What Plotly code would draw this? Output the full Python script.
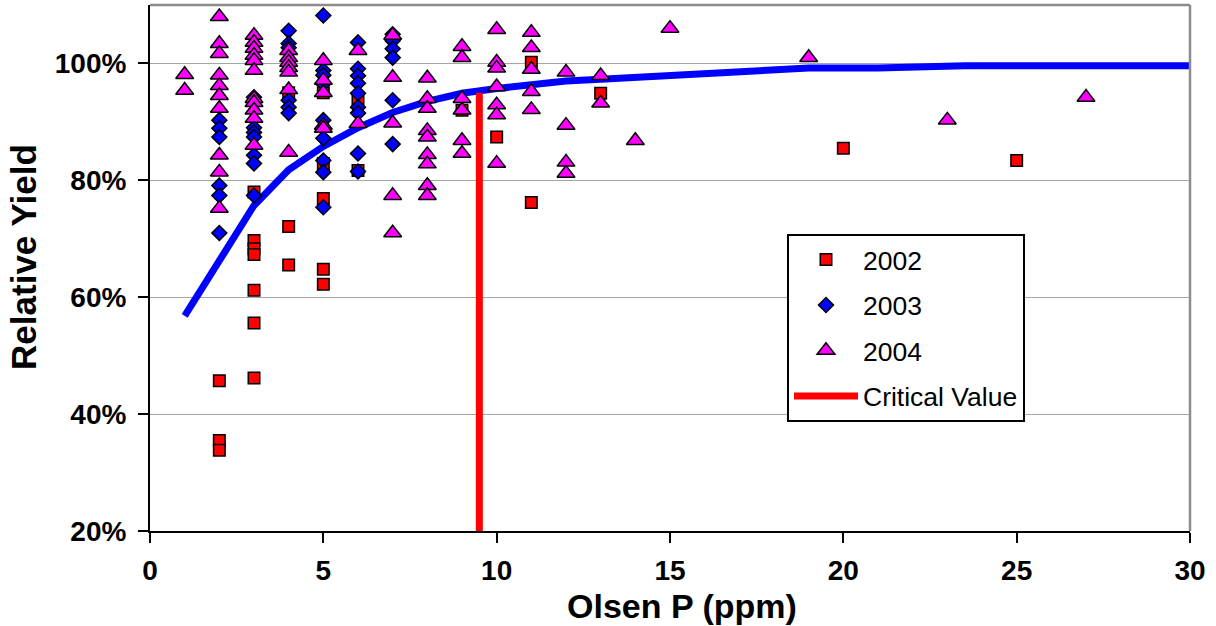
import plotly.graph_objects as go

# ---- data ----
x2002 = [2, 2, 2, 3, 3, 3, 3, 3, 3, 3, 4, 4, 4, 5, 5, 5, 5, 5, 6, 6, 9, 10, 11, 11, 13, 20, 25]
y2002 = [45.7, 35.5, 33.8, 78.0, 69.7, 68.3, 67.3, 61.2, 55.6, 46.2, 95.0, 72.1, 65.5,
         95.0, 82.9, 76.9, 64.8, 62.2, 94.0, 81.7, 92.0, 87.4, 100.2, 76.2, 94.9, 85.5, 83.4]

x2003 = [2, 2, 2, 2, 2, 2,
         3, 3, 3, 3, 3, 3, 3,
         4, 4, 4, 4, 4, 4, 4,
         5, 5, 5, 5, 5, 5, 5, 5, 5,
         6, 6, 6, 6, 6, 6, 6, 6, 6,
         7, 7, 7, 7, 7, 7]
y2003 = [90.3, 88.9, 87.4, 79.1, 77.4, 71.0,
         94.2, 89.0, 88.2, 87.4, 84.3, 82.9, 77.4,
         105.6, 103.4, 102.7, 100.5, 93.7, 92.5, 91.5,
         108.2, 98.8, 98.0, 96.5, 90.3, 87.2, 83.4, 81.4, 75.4,
         103.6, 99.1, 97.9, 96.6, 94.9, 92.5, 91.5, 84.6, 81.5,
         105.0, 103.9, 102.5, 101.0, 93.7, 86.2]

x2004 = [1, 1,
         2, 2, 2, 2, 2, 2, 2, 2, 2, 2,
         3, 3, 3, 3, 3, 3, 3, 3, 3, 3, 3,
         4, 4, 4, 4, 4, 4, 4,
         5, 5, 5, 5, 5,
         6, 6,
         7, 7, 7, 7, 7,
         8, 8, 8, 8, 8, 8, 8, 8, 8,
         9, 9, 9, 9, 9, 9,
         10, 10, 10, 10, 10, 10, 10,
         11, 11, 11, 11, 11,
         12, 12, 12, 12,
         13, 13, 14, 15, 19, 23, 27]
y2004 = [98.1, 95.4,
         108.0, 103.4, 101.7, 98.0, 96.2, 94.5, 92.3, 84.3, 81.4, 75.2,
         104.8, 103.6, 102.6, 101.4, 100.5, 98.8, 94.0, 93.3, 92.0, 90.6, 86.0,
         102.2, 101.0, 100.2, 99.3, 98.5, 95.5, 84.8,
         100.5, 97.1, 95.0, 89.4, 88.9,
         102.2, 89.7,
         104.8, 97.6, 89.8, 77.4, 71.0,
         97.5, 94.0, 92.3, 88.5, 87.4, 84.4, 82.8, 79.1, 77.4,
         102.9, 101.0, 94.0, 92.0, 86.8, 84.6,
         105.8, 100.2, 99.2, 96.0, 92.9, 91.2, 82.9,
         105.3, 102.7, 99.0, 95.2, 92.1,
         98.5, 89.4, 83.1, 81.2,
         97.9, 93.2, 86.8, 106.0, 101.0, 90.3, 94.2]

curve_x = [1, 2, 3, 4, 5, 6, 7, 8, 9, 10, 11, 12, 13, 14, 15, 17, 19, 21, 23.5, 30]
curve_y = [56.8, 66.3, 75.7, 81.8, 85.8, 89.0, 91.6, 93.5, 94.9, 95.7, 96.5, 97.0, 97.3,
           97.6, 98.0, 98.5, 99.2, 99.2, 99.6, 99.6]

crit_x = [9.5, 9.5]
crit_y = [20, 95]

x_ticks = [0, 5, 10, 15, 20, 25, 30]
y_ticks = [20, 40, 60, 80, 100]
y_tick_text = ["20%", "40%", "60%", "80%", "100%"]

FONT = "Liberation Sans, Arial, sans-serif"

fig = go.Figure()

fig.add_trace(go.Scatter(x=curve_x, y=curve_y, mode="lines",
                         line=dict(color="#0000FF", width=7),
                         showlegend=False, hoverinfo="skip"))
fig.add_trace(go.Scatter(x=crit_x, y=crit_y, mode="lines", name="Critical Value",
                         line=dict(color="#FF0000", width=7),
                         legendgroup="d", legendrank=4))
fig.add_trace(go.Scatter(x=x2002, y=y2002, mode="markers", name="2002",
                         marker=dict(symbol="square", size=11.5, color="#FF0000",
                                     line=dict(color="black", width=1.5)),
                         legendgroup="a", legendrank=1))
fig.add_trace(go.Scatter(x=x2003, y=y2003, mode="markers", name="2003",
                         marker=dict(symbol="diamond", size=11.5, color="#0000FF",
                                     line=dict(color="black", width=1.5)),
                         legendgroup="b", legendrank=2))
fig.add_trace(go.Scatter(x=x2004, y=y2004, mode="markers", name="2004",
                         marker=dict(symbol="triangle-up", size=15.5, color="#FF00FF",
                                     line=dict(color="black", width=1.5)),
                         legendgroup="c", legendrank=3))

# gray top & right border of the plot area
fig.add_shape(type="line", xref="paper", yref="paper", x0=0, x1=1, y0=1, y1=1,
              line=dict(color="#8c8c8c", width=2.5), layer="above")
fig.add_shape(type="line", xref="paper", yref="paper", x0=1, x1=1, y0=0, y1=1,
              line=dict(color="#8c8c8c", width=2.5), layer="above")

# axis titles
fig.add_annotation(text="<b>Olsen P (ppm)</b>", xref="paper", yref="paper",
                   x=0.5115, y=-0.143, xanchor="center", yanchor="middle",
                   showarrow=False, font=dict(size=34, family=FONT, color="black"))
fig.add_annotation(text="<b>Relative Yield</b>", xref="paper", yref="paper",
                   x=-0.1212, y=0.521, xanchor="center", yanchor="middle",
                   textangle=-90, showarrow=False,
                   font=dict(size=35, family=FONT, color="black"))

fig.update_layout(
    width=1216, height=626,
    margin=dict(l=150, r=26, t=5, b=95),
    paper_bgcolor="white", plot_bgcolor="white",
    font=dict(family=FONT, color="black"),
    legend=dict(x=0.6125, y=0.565, xanchor="left", yanchor="top",
                bordercolor="black", borderwidth=2, bgcolor="white",
                font=dict(size=26.5, family=FONT, color="black"),
                traceorder="grouped", tracegroupgap=8,
                itemwidth=64),
    xaxis=dict(range=[0, 30], tickvals=x_ticks, ticks="outside", ticklen=10,
               ticklabelstandoff=3,
               tickwidth=2, tickcolor="black", showline=True, linecolor="black",
               linewidth=2, showgrid=False, zeroline=False, automargin=False,
               tickfont=dict(size=28, family=FONT, color="black", weight="bold")),
    yaxis=dict(range=[20, 110], tickvals=y_ticks, ticktext=y_tick_text,
               ticks="outside", ticklabelstandoff=6,
               ticklen=10, tickwidth=2, tickcolor="black", showline=True,
               linecolor="black", linewidth=2, showgrid=True, gridcolor="#a6a6a6",
               gridwidth=1, zeroline=False, automargin=False,
               tickfont=dict(size=28, family=FONT, color="black", weight="bold")),
)

fig.write_html("out.html", config={"displayModeBar": False},
               post_script="document.body.style.margin='0px';")
